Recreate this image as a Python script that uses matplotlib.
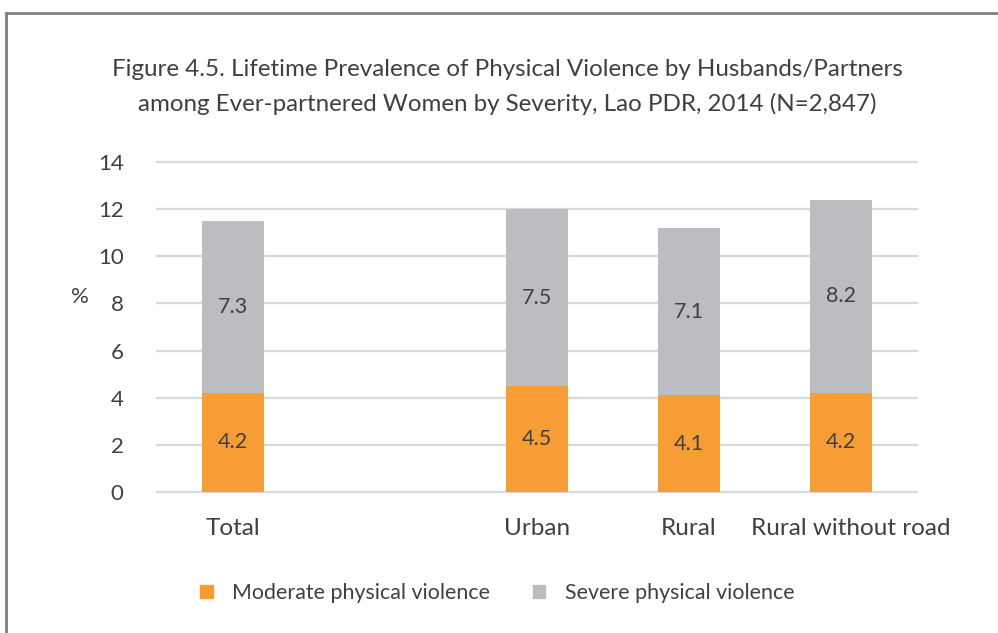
import numpy as np
import matplotlib.pyplot as plt
import matplotlib.transforms as mtrans
from matplotlib.lines import Line2D
from matplotlib.patches import Patch

plt.rcParams['font.family'] = ['Lato', 'DejaVu Sans']

categories = ['Total', '', 'Urban', 'Rural', 'Rural without road']
moderate = [4.2, np.nan, 4.5, 4.1, 4.2]
severe = [7.3, np.nan, 7.5, 7.1, 8.2]
yticks = [0, 2, 4, 6, 8, 10, 12, 14]

orange = '#F79D35'
grey = '#BCBDC0'
txt = '#404040'

fig = plt.figure(figsize=(9.98, 6.33), dpi=100)
ax = fig.add_axes([157/998, 1-492/633, 760/998, 330/633])

x = np.arange(len(categories))
mod = np.nan_to_num(moderate)
sev = np.nan_to_num(severe)
ax.bar(x, mod, width=0.41, color=orange, zorder=3)
ax.bar(x, sev, width=0.41, bottom=mod, color=grey, zorder=3)

for xi, m, s in zip(x, moderate, severe):
    if np.isnan(m):
        continue
    ax.text(xi, m/2, f'{m:.1f}', ha='center', va='center', fontsize=15.5, color=txt, zorder=4)
    ax.text(xi, m + s/2, f'{s:.1f}', ha='center', va='center', fontsize=15.5, color=txt, zorder=4)

ax.set_xlim(-0.5, len(categories)-0.5)
ax.set_ylim(0, 14)
ax.set_yticks(yticks)
ax.set_xticks(x)
ax.set_xticklabels(categories)
for yt in yticks:
    ax.axhline(yt, color='#D9D9D9', lw=1.6, zorder=1, clip_on=False)
for sp in ax.spines.values():
    sp.set_visible(False)
ax.tick_params(axis='both', length=0, colors=txt)
ax.tick_params(axis='y', pad=24, labelsize=16)
ax.tick_params(axis='x', pad=19, labelsize=17.5)
# last label sits a bit right of its bar in the original
lab = ax.get_xticklabels()[-1]
lab.set_transform(lab.get_transform() + mtrans.ScaledTranslation(10/100, 0, fig.dpi_scale_trans))
ax.set_ylabel('%', rotation=0, fontsize=16, color=txt)
ax.yaxis.set_label_coords(-0.102, 0.56)

fig.text(0.508, 1-70/633, 'Figure 4.5. Lifetime Prevalence of Physical Violence by Husbands/Partners',
         ha='center', va='center', fontsize=17.4, color=txt)
fig.text(0.508, 1-104/633, 'among Ever-partnered Women by Severity, Lao PDR, 2014 (N=2,847)',
         ha='center', va='center', fontsize=17.4, color=txt)

handles = [Patch(color=orange), Patch(color=grey)]
fig.legend(handles, ['Moderate physical violence', 'Severe physical violence'],
           loc='center', bbox_to_anchor=(497/998, 1-593/633), ncol=2, frameon=False,
           fontsize=15.4, labelcolor=txt, handlelength=0.6, handleheight=0.6,
           columnspacing=2.0, handletextpad=0.9)

fig.add_artist(Line2D([6/998, 1], [1-13/633, 1-13/633], color='#808080', lw=2))
fig.add_artist(Line2D([6/998, 6/998], [0, 1-13/633], color='#808080', lw=2))

fig.savefig('out.png', dpi=100)
